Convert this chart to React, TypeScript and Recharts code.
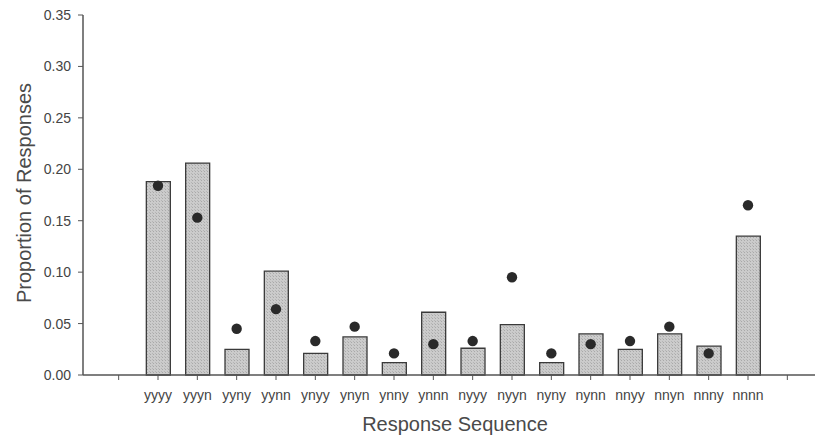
import React from "react";
import { ComposedChart, Bar, Scatter, XAxis, YAxis } from "recharts";

const sequences = ["", "yyyy", "yyyn", "yyny", "yynn", "ynyy", "ynyn", "ynny", "ynnn", "nyyy", "nyyn", "nyny", "nynn", "nnyy", "nnyn", "nnny", "nnnn", ""];
const observed = [null, 0.188, 0.206, 0.025, 0.101, 0.021, 0.037, 0.012, 0.061, 0.026, 0.049, 0.012, 0.040, 0.025, 0.040, 0.028, 0.135, null];
const predicted = [null, 0.184, 0.153, 0.045, 0.064, 0.033, 0.047, 0.021, 0.030, 0.033, 0.095, 0.021, 0.030, 0.033, 0.047, 0.021, 0.165, null];
const yTicks = [0, 0.05, 0.1, 0.15, 0.2, 0.25, 0.3, 0.35];

const data = sequences.map((s, i) => ({ key: `${i}-${s}`, label: s, observed: observed[i], predicted: predicted[i] }));

const FONT = "'Liberation Sans', Arial, sans-serif";

const Dot = (p: any) => {
  if (p.cx == null || p.cy == null || !isFinite(p.cy) || p.payload?.predicted == null) return <g />;
  return <circle cx={p.cx} cy={p.cy} r={5.2} fill="#2a2a2a" />;
};

export default function App() {
  return (
    <div style={{ position: "absolute", left: 0, top: 0, background: "#fff" }}>
      <ComposedChart width={815} height={441} data={data} margin={{ top: 15, right: 0, bottom: 0, left: 0 }}>
        <defs>
          <pattern id="stip" width="3" height="3" patternUnits="userSpaceOnUse">
            <rect width="3" height="3" fill="#cbcbcb" />
            <rect width="1" height="1" fill="#a9a9a9" />
            <rect x="2" y="2" width="1" height="1" fill="#b5b5b5" />
          </pattern>
        </defs>
        <XAxis
          dataKey="key"
          type="category"
          interval={0}
          height={66}
          padding={{ left: 16, right: 8 }}
          tickFormatter={(v: string) => v.split("-")[1] || ""}
          tickSize={5}
          tickMargin={10}
          stroke="#555"
          tick={{ fill: "#444", fontSize: 14, fontFamily: FONT }}
          tickLine={{ stroke: "#555" }}
          axisLine={{ stroke: "#555", strokeWidth: 1.5 }}
          label={(props: any) => {
            const vb = props.viewBox;
            return (
              <text x={455} y={vb.y + 56} textAnchor="middle" fill="#4a4a4a" fontSize={20} fontFamily={FONT}>
                Response Sequence
              </text>
            );
          }}
        />
        <YAxis
          type="number"
          domain={[0, 0.35]}
          ticks={yTicks}
          width={83}
          tickFormatter={(v: number) => v.toFixed(2)}
          tickSize={5}
          tickMargin={7}
          stroke="#555"
          tick={{ fill: "#444", fontSize: 14, fontFamily: FONT }}
          tickLine={{ stroke: "#555" }}
          axisLine={{ stroke: "#555", strokeWidth: 1.5 }}
          label={() => (
            <text x={31} y={193} transform="rotate(-90, 31, 193)" textAnchor="middle" fill="#4a4a4a" fontSize={20} fontFamily={FONT}>
              Proportion of Responses
            </text>
          )}
        />
        <Bar dataKey="observed" barSize={24} fill="url(#stip)" stroke="#3a3a3a" strokeWidth={1.3} isAnimationActive={false} />
        <Scatter dataKey="predicted" shape={Dot} isAnimationActive={false} />
      </ComposedChart>
    </div>
  );
}
